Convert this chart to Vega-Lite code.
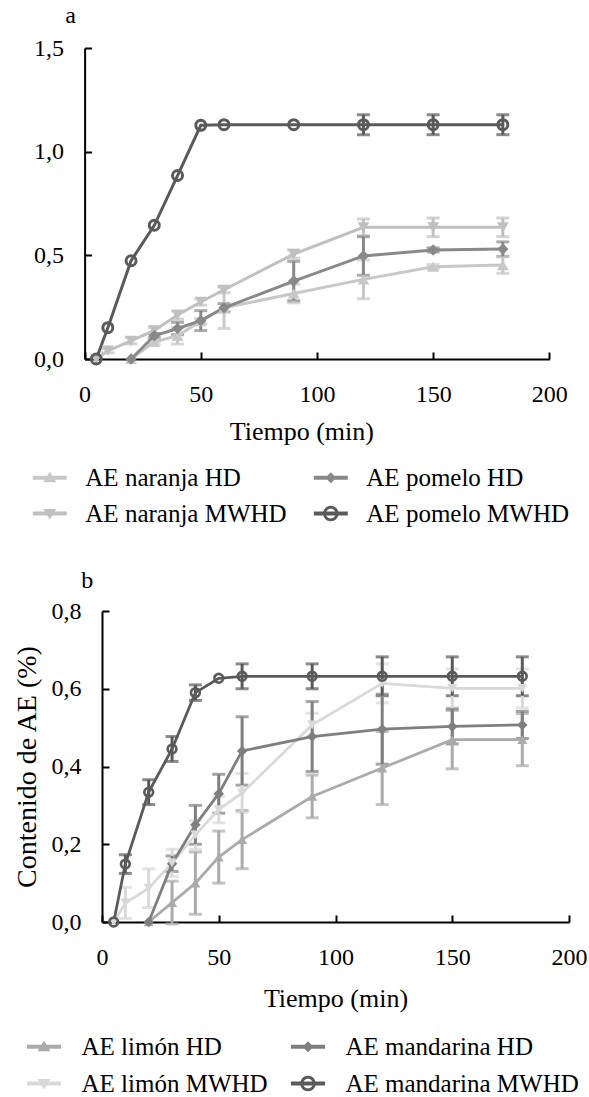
{
  "$schema": "https://vega.github.io/schema/vega-lite/v6.json",
  "padding": {"top": 4, "left": 13, "right": 0, "bottom": 0},
  "background": "white",
  "config": {
    "font": "Liberation Serif",
    "view": {"stroke": null},
    "axis": {"grid": false, "domainColor": "#000", "domainWidth": 2, "tickColor": "#000", "tickWidth": 2, "tickSize": -7, "labelFont": "Liberation Serif", "titleFont": "Liberation Serif", "labelFontSize": 24, "labelColor": "#000", "titleFontWeight": "normal", "titleColor": "#000", "labelFlush": false},
    "legend": {"labelFont": "Liberation Serif", "labelColor": "#000", "labelFontSize": 25, "labelLimit": 400},
    "title": {"font": "Liberation Serif"}
  },
  "datasets": {
    "a": [
      {"serie": "AE naranja HD", "t": 20, "v": 0, "e": 0},
      {"serie": "AE naranja HD", "t": 30, "v": 0.083, "e": 0.01},
      {"serie": "AE naranja HD", "t": 40, "v": 0.112, "e": 0.04},
      {"serie": "AE naranja HD", "t": 50, "v": 0.183, "e": 0.012},
      {"serie": "AE naranja HD", "t": 60, "v": 0.247, "e": 0.1},
      {"serie": "AE naranja HD", "t": 90, "v": 0.316, "e": 0.045},
      {"serie": "AE naranja HD", "t": 120, "v": 0.384, "e": 0.094},
      {"serie": "AE naranja HD", "t": 150, "v": 0.445, "e": 0.01},
      {"serie": "AE naranja HD", "t": 180, "v": 0.453, "e": 0.04},
      {"serie": "AE naranja MWHD", "t": 5, "v": 0, "e": 0},
      {"serie": "AE naranja MWHD", "t": 10, "v": 0.04, "e": 0.01},
      {"serie": "AE naranja MWHD", "t": 20, "v": 0.088, "e": 0.015},
      {"serie": "AE naranja MWHD", "t": 30, "v": 0.138, "e": 0.015},
      {"serie": "AE naranja MWHD", "t": 40, "v": 0.212, "e": 0.02},
      {"serie": "AE naranja MWHD", "t": 50, "v": 0.275, "e": 0.015},
      {"serie": "AE naranja MWHD", "t": 60, "v": 0.334, "e": 0.015},
      {"serie": "AE naranja MWHD", "t": 90, "v": 0.506, "e": 0.02},
      {"serie": "AE naranja MWHD", "t": 120, "v": 0.635, "e": 0.04},
      {"serie": "AE naranja MWHD", "t": 150, "v": 0.635, "e": 0.045},
      {"serie": "AE naranja MWHD", "t": 180, "v": 0.635, "e": 0.045},
      {"serie": "AE pomelo HD", "t": 20, "v": 0, "e": 0},
      {"serie": "AE pomelo HD", "t": 30, "v": 0.112, "e": 0.01},
      {"serie": "AE pomelo HD", "t": 40, "v": 0.147, "e": 0.03},
      {"serie": "AE pomelo HD", "t": 50, "v": 0.185, "e": 0.048},
      {"serie": "AE pomelo HD", "t": 60, "v": 0.247, "e": 0.02},
      {"serie": "AE pomelo HD", "t": 90, "v": 0.376, "e": 0.095},
      {"serie": "AE pomelo HD", "t": 120, "v": 0.497, "e": 0.093},
      {"serie": "AE pomelo HD", "t": 150, "v": 0.526, "e": 0.01},
      {"serie": "AE pomelo HD", "t": 180, "v": 0.53, "e": 0.035},
      {"serie": "AE pomelo MWHD", "t": 5, "v": 0, "e": 0},
      {"serie": "AE pomelo MWHD", "t": 10, "v": 0.151, "e": 0},
      {"serie": "AE pomelo MWHD", "t": 20, "v": 0.474, "e": 0},
      {"serie": "AE pomelo MWHD", "t": 30, "v": 0.645, "e": 0},
      {"serie": "AE pomelo MWHD", "t": 40, "v": 0.885, "e": 0},
      {"serie": "AE pomelo MWHD", "t": 50, "v": 1.127, "e": 0},
      {"serie": "AE pomelo MWHD", "t": 60, "v": 1.13, "e": 0},
      {"serie": "AE pomelo MWHD", "t": 90, "v": 1.13, "e": 0},
      {"serie": "AE pomelo MWHD", "t": 120, "v": 1.13, "e": 0.048},
      {"serie": "AE pomelo MWHD", "t": 150, "v": 1.13, "e": 0.048},
      {"serie": "AE pomelo MWHD", "t": 180, "v": 1.13, "e": 0.048}
    ],
    "b": [
      {"serie": "AE limón HD", "t": 20, "v": 0, "e": 0},
      {"serie": "AE limón HD", "t": 30, "v": 0.05, "e": 0.055},
      {"serie": "AE limón HD", "t": 40, "v": 0.1, "e": 0.08},
      {"serie": "AE limón HD", "t": 50, "v": 0.167, "e": 0.067},
      {"serie": "AE limón HD", "t": 60, "v": 0.212, "e": 0.075},
      {"serie": "AE limón HD", "t": 90, "v": 0.323, "e": 0.055},
      {"serie": "AE limón HD", "t": 120, "v": 0.396, "e": 0.094},
      {"serie": "AE limón HD", "t": 150, "v": 0.469, "e": 0.075},
      {"serie": "AE limón HD", "t": 180, "v": 0.469, "e": 0.067},
      {"serie": "AE limón MWHD", "t": 5, "v": 0, "e": 0},
      {"serie": "AE limón MWHD", "t": 10, "v": 0.049, "e": 0.04},
      {"serie": "AE limón MWHD", "t": 20, "v": 0.087, "e": 0.05},
      {"serie": "AE limón MWHD", "t": 30, "v": 0.152, "e": 0.035},
      {"serie": "AE limón MWHD", "t": 40, "v": 0.224, "e": 0.037},
      {"serie": "AE limón MWHD", "t": 50, "v": 0.289, "e": 0.034},
      {"serie": "AE limón MWHD", "t": 60, "v": 0.332, "e": 0.05},
      {"serie": "AE limón MWHD", "t": 90, "v": 0.507, "e": 0.03},
      {"serie": "AE limón MWHD", "t": 120, "v": 0.614, "e": 0.05},
      {"serie": "AE limón MWHD", "t": 150, "v": 0.601, "e": 0.05},
      {"serie": "AE limón MWHD", "t": 180, "v": 0.601, "e": 0.05},
      {"serie": "AE mandarina HD", "t": 20, "v": 0, "e": 0},
      {"serie": "AE mandarina HD", "t": 30, "v": 0.15, "e": 0.02},
      {"serie": "AE mandarina HD", "t": 40, "v": 0.25, "e": 0.05},
      {"serie": "AE mandarina HD", "t": 50, "v": 0.33, "e": 0.05},
      {"serie": "AE mandarina HD", "t": 60, "v": 0.44, "e": 0.088},
      {"serie": "AE mandarina HD", "t": 90, "v": 0.477, "e": 0.09},
      {"serie": "AE mandarina HD", "t": 120, "v": 0.496, "e": 0.09},
      {"serie": "AE mandarina HD", "t": 150, "v": 0.503, "e": 0.045},
      {"serie": "AE mandarina HD", "t": 180, "v": 0.507, "e": 0.035},
      {"serie": "AE mandarina MWHD", "t": 5, "v": 0, "e": 0},
      {"serie": "AE mandarina MWHD", "t": 10, "v": 0.149, "e": 0.024},
      {"serie": "AE mandarina MWHD", "t": 20, "v": 0.334, "e": 0.032},
      {"serie": "AE mandarina MWHD", "t": 30, "v": 0.445, "e": 0.032},
      {"serie": "AE mandarina MWHD", "t": 40, "v": 0.59, "e": 0.02},
      {"serie": "AE mandarina MWHD", "t": 50, "v": 0.627, "e": 0},
      {"serie": "AE mandarina MWHD", "t": 60, "v": 0.632, "e": 0.032},
      {"serie": "AE mandarina MWHD", "t": 90, "v": 0.632, "e": 0.032},
      {"serie": "AE mandarina MWHD", "t": 120, "v": 0.632, "e": 0.05},
      {"serie": "AE mandarina MWHD", "t": 150, "v": 0.632, "e": 0.05},
      {"serie": "AE mandarina MWHD", "t": 180, "v": 0.632, "e": 0.05}
    ]
  },
  "spacing": 42,
  "resolve": {"scale": {"color": "independent", "shape": "independent"}},
  "vconcat": [
    {
      "width": 447,
      "height": 311,
      "data": {"name": "a"},
      "title": {"text": "a", "anchor": "start", "frame": "group", "dx": -36.7, "offset": -11, "fontSize": 24, "fontWeight": "normal", "color": "#000", "baseline": "alphabetic"},
      "encoding": {
        "x": {"field": "t", "type": "quantitative", "scale": {"domain": [0, 200], "nice": false, "range": [-17.4, 447.3]}, "axis": {"values": [0, 50, 100, 150, 200], "format": "d", "labelPadding": 30, "title": "Tiempo (min)", "titleFontSize": 26, "titleX": 199.3, "titleY": 80.7, "titleBaseline": "alphabetic"}},
        "y": {"field": "v", "type": "quantitative", "scale": {"domain": [0, 1.5], "nice": false}, "axis": {"values": [0, 0.5, 1, 1.5], "offset": 17.4, "labelExpr": "replace(format(datum.value, '.1f'), '.', ',')", "labelPadding": 28, "title": null}},
        "color": {"field": "serie", "type": "nominal", "scale": {"domain": ["AE naranja HD", "AE naranja MWHD", "AE pomelo HD", "AE pomelo MWHD"], "range": ["#c8c8c8", "#c0c0c0", "#898989", "#5a5a5a"]},
          "legend": {"orient": "none", "legendX": -64.7, "legendY": 417, "columns": 2, "columnPadding": 26, "rowPadding": 10, "labelOffset": 23, "symbolSize": 625, "symbolStrokeWidth": 0, "symbolOpacity": 1, "title": null, "padding": 0}}
      },
      "layer": [
        {"transform": [{"filter": "datum.t == 180"}], "mark": {"type": "point", "filled": true, "opacity": 0},
         "encoding": {"shape": {"field": "serie", "type": "nominal",
           "scale": {"domain": ["AE naranja HD", "AE naranja MWHD", "AE pomelo HD", "AE pomelo MWHD"],
             "range": ["M-1.36,-0.16L1.36,-0.16L1.36,0.16L-1.36,0.16ZM0,-0.48L0.52,0.36L-0.52,0.36Z", "M-1.36,-0.16L1.36,-0.16L1.36,0.16L-1.36,0.16ZM0,0.48L-0.52,-0.36L0.52,-0.36Z", "M-1.36,-0.16L1.36,-0.16L1.36,0.16L-1.36,0.16ZM0,-0.44L0.44,0L0,0.44L-0.44,0Z", "M-1.36,-0.16L1.36,-0.16L1.36,0.16L-1.36,0.16ZM-0.62,0A0.62,0.62,0,1,1,0.62,0A0.62,0.62,0,1,1,-0.62,0ZM-0.39,0A0.39,0.39,0,1,0,0.39,0A0.39,0.39,0,1,0,-0.39,0Z"]},
           "legend": {"orient": "none", "legendX": -64.7, "legendY": 417, "columns": 2, "columnPadding": 26, "rowPadding": 10, "labelOffset": 23, "symbolSize": 625, "symbolStrokeWidth": 0, "symbolOpacity": 1, "title": null, "padding": 0}}}},
        {"transform": [{"filter": "datum.e > 0"}], "mark": {"type": "errorbar", "ticks": true, "size": 13, "thickness": 3}, "encoding": {"yError": {"field": "e"}}},
        {"mark": {"type": "line", "strokeWidth": 3}},
        {"transform": [{"filter": "datum.serie == 'AE naranja HD'"}], "mark": {"type": "point", "shape": "triangle-up", "filled": true, "size": 140, "opacity": 1}},
        {"transform": [{"filter": "datum.serie == 'AE naranja MWHD'"}], "mark": {"type": "point", "shape": "triangle-down", "filled": true, "size": 140, "opacity": 1}},
        {"transform": [{"filter": "datum.serie == 'AE pomelo HD'"}], "mark": {"type": "point", "shape": "diamond", "filled": true, "size": 130, "opacity": 1}},
        {"transform": [{"filter": "datum.serie == 'AE pomelo MWHD'"}], "mark": {"type": "point", "shape": "circle", "filled": false, "size": 100, "strokeWidth": 3, "opacity": 1}}
      ]
    },
    {
      "width": 467,
      "height": 311,
      "data": {"name": "b"},
      "title": {"text": "b", "anchor": "start", "frame": "group", "dx": -20.7, "offset": -13, "fontSize": 24, "fontWeight": "normal", "color": "#000", "baseline": "alphabetic"},
      "encoding": {
        "x": {"field": "t", "type": "quantitative", "scale": {"domain": [0, 200], "nice": false}, "axis": {"values": [0, 50, 100, 150, 200], "format": "d", "labelPadding": 30, "title": "Tiempo (min)", "titleFontSize": 26, "titleY": 84.3, "titleBaseline": "alphabetic"}},
        "y": {"field": "v", "type": "quantitative", "scale": {"domain": [0, 0.8], "nice": false}, "axis": {"values": [0, 0.2, 0.4, 0.6, 0.8], "labelExpr": "replace(format(datum.value, '.1f'), '.', ',')", "labelPadding": 28, "title": "Contenido de AE (%)", "titleFontSize": 28, "titleX": -67, "titleBaseline": "alphabetic"}},
        "color": {"field": "serie", "type": "nominal", "scale": {"domain": ["AE limón HD", "AE limón MWHD", "AE mandarina HD", "AE mandarina MWHD"], "range": ["#ababab", "#d9d9d9", "#7f7f7f", "#5a5a5a"]},
          "legend": {"orient": "none", "legendX": -70.5, "legendY": 423, "columns": 2, "columnPadding": 22, "rowPadding": 11, "labelOffset": 25, "symbolSize": 625, "symbolStrokeWidth": 0, "symbolOpacity": 1, "title": null, "padding": 0}}
      },
      "layer": [
        {"transform": [{"filter": "datum.t == 180"}], "mark": {"type": "point", "filled": true, "opacity": 0},
         "encoding": {"shape": {"field": "serie", "type": "nominal",
           "scale": {"domain": ["AE limón HD", "AE limón MWHD", "AE mandarina HD", "AE mandarina MWHD"],
             "range": ["M-1.36,-0.16L1.36,-0.16L1.36,0.16L-1.36,0.16ZM0,-0.48L0.52,0.36L-0.52,0.36Z", "M-1.36,-0.16L1.36,-0.16L1.36,0.16L-1.36,0.16ZM0,0.48L-0.52,-0.36L0.52,-0.36Z", "M-1.36,-0.16L1.36,-0.16L1.36,0.16L-1.36,0.16ZM0,-0.44L0.44,0L0,0.44L-0.44,0Z", "M-1.36,-0.16L1.36,-0.16L1.36,0.16L-1.36,0.16ZM-0.62,0A0.62,0.62,0,1,1,0.62,0A0.62,0.62,0,1,1,-0.62,0ZM-0.39,0A0.39,0.39,0,1,0,0.39,0A0.39,0.39,0,1,0,-0.39,0Z"]},
           "legend": {"orient": "none", "legendX": -70.5, "legendY": 423, "columns": 2, "columnPadding": 22, "rowPadding": 11, "labelOffset": 25, "symbolSize": 625, "symbolStrokeWidth": 0, "symbolOpacity": 1, "title": null, "padding": 0}}}},
        {"transform": [{"filter": "datum.e > 0"}], "mark": {"type": "errorbar", "ticks": true, "size": 13, "thickness": 3}, "encoding": {"yError": {"field": "e"}}},
        {"mark": {"type": "line", "strokeWidth": 2.8}},
        {"transform": [{"filter": "datum.serie == 'AE limón HD'"}], "mark": {"type": "point", "shape": "triangle-up", "filled": true, "size": 100, "opacity": 1}},
        {"transform": [{"filter": "datum.serie == 'AE mandarina HD'"}], "mark": {"type": "point", "shape": "diamond", "filled": true, "size": 110, "opacity": 1}},
        {"transform": [{"filter": "datum.serie == 'AE limón MWHD'"}], "mark": {"type": "point", "shape": "triangle-down", "filled": true, "size": 100, "opacity": 1}},
        {"transform": [{"filter": "datum.serie == 'AE mandarina MWHD'"}], "mark": {"type": "point", "shape": "circle", "filled": false, "size": 77, "strokeWidth": 2.6, "opacity": 1}}
      ]
    }
  ]
}
